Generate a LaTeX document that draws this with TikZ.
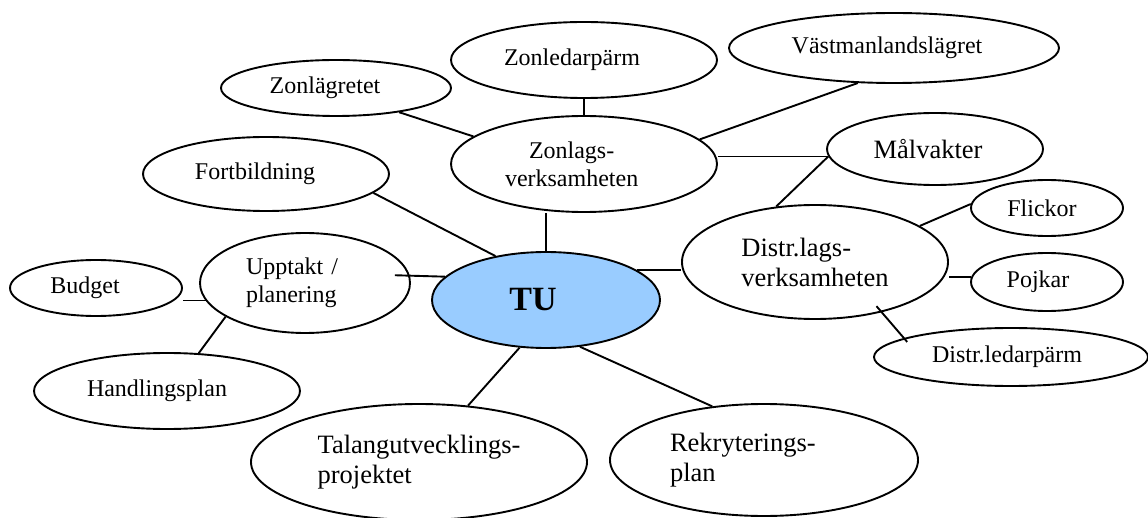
\documentclass[tikz,border=0pt]{standalone}
\usepackage{fontspec}
\setmainfont{Liberation Serif}
\usetikzlibrary{shapes.geometric}
\definecolor{hubblue}{RGB}{153,204,255}
\tikzset{
  ov/.style={ellipse,draw=black,line width=1.9pt,inner sep=0pt,font=\fontsize{24}{28}\selectfont},
  ovl/.style={ov,font=\fontsize{26.5}{30}\selectfont},
  hub/.style={ov,fill=hubblue,font=\fontsize{34}{40}\selectfont\bfseries},
  lnk/.style={draw=black,line width=1.9pt},
  % text sits a little left of the oval's centre (by half the value)
  nudge/.style={execute at begin node={\hspace*{-#1}}},
}

\begin{document}
\begin{tikzpicture}[x=1pt,y=-1pt]
\useasboundingbox (0,0) rectangle (1148,518);
% hub
\node[hub,nudge=26pt,minimum width=228pt,minimum height=96pt] (tu) at (546,300) {TU};
% upper group
\node[ov,align=left,text width=158pt,minimum width=266pt,minimum height=96pt] (zlag) at (584,164) {\hspace*{24pt}Zonlags-\\verksamheten};
\node[ov,nudge=24pt,minimum width=266pt,minimum height=76pt] (zledar) at (584,60) {\raisebox{4pt}{Zonledarpärm}};
\node[ov,nudge=22pt,minimum width=230pt,minimum height=56pt] (zlager) at (336,88) {\raisebox{-3pt}{Zonlägretet}};
\node[ov,nudge=14pt,minimum width=330pt,minimum height=70pt] (vast) at (894,48) {Västmanlandslägret};
\node[ov,nudge=22pt,minimum width=246pt,minimum height=74pt] (fort) at (266,174) {Fortbildning};
% right group
\node[ovl,nudge=14pt,minimum width=216pt,minimum height=72pt] (malv) at (935,149) {Målvakter};
\node[ovl,align=left,minimum width=266pt,minimum height=114pt] (dlag) at (815,262) {Distr.lags-\\verksamheten};
\node[ov,nudge=10pt,minimum width=152pt,minimum height=56pt] (flick) at (1047,208) {Flickor};
\node[ov,nudge=18pt,minimum width=152pt,minimum height=58pt] (pojk) at (1047,282) {Pojkar};
\node[ov,nudge=8pt,minimum width=274pt,minimum height=58pt] (dled) at (1011,357) {Distr.ledarpärm};
% left group
\node[ov,align=left,text width=118pt,minimum width=210pt,minimum height=100pt] (upp) at (305,283) {Upptakt /\\planering};
\node[ov,nudge=22pt,minimum width=172pt,minimum height=56pt] (budg) at (96,288) {Budget};
\node[ov,nudge=20pt,minimum width=266pt,minimum height=76pt] (hand) at (167,391) {Handlingsplan};
% bottom
\node[ovl,align=left,minimum width=336pt,minimum height=116pt] (tal) at (419,462) {Talangutvecklings-\\projektet};
\node[ovl,align=left,text width=188pt,minimum width=308pt,minimum height=112pt] (rek) at (764,460) {Rekryterings-\\plan};

\draw[lnk] (fort.-10) -- (tu.139);
\draw[lnk] (tu.north) -- (tu.north |- zlag.south);
\draw[lnk] (zledar.south) -- (zlag.north);
\draw[lnk] (zlager.-21) -- (zlag.166);
\draw[lnk] (vast.-136) -- (zlag.12);
\draw[lnk] (malv.184) -- (malv.184 -| zlag.east);
\draw[lnk] (malv.184) -- (dlag.125);
\draw[lnk] (flick.177) -- (dlag.19);
\draw[lnk] (pojk.176) -- (pojk.176 -| dlag.east);
% this one runs on into both ovals
\draw[lnk,shorten <=-8pt,shorten >=-5pt] (dlag.-37) -- (dled.170);
\draw[lnk] (upp.190) -- (upp.190 -| budg.east);
\draw[lnk] (upp.203) -- (hand.50);
\draw[lnk,shorten >=-15pt] (tu.167) -- (upp.4);
\draw[lnk] (tu.18) -- (tu.18 -| dlag.west);
\draw[lnk] (tu.241) -- (tal.49);
\draw[lnk] (tu.-54) -- (rek.134);
\end{tikzpicture}
\end{document}
